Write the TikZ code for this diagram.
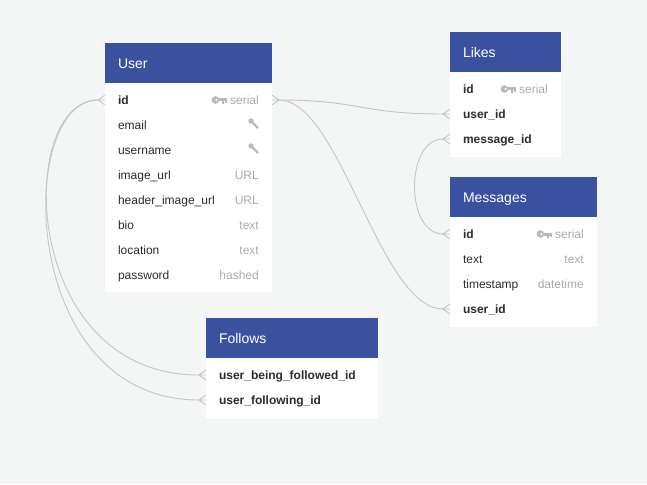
\documentclass[tikz,border=0pt]{standalone}
\usepackage{fontspec}
\setmainfont{Liberation Sans}
\usetikzlibrary{positioning}

\definecolor{canvas}{HTML}{F4F5F5}
\definecolor{headblue}{HTML}{3A51A0}
\definecolor{fieldtext}{HTML}{2C2C2C}
\definecolor{typetext}{HTML}{ABABAB}
\definecolor{keygrey}{HTML}{B9B9BE}
\definecolor{linkgrey}{HTML}{C6C6C6}

\tikzset{
  header/.style={fill=headblue, text=white, anchor=north west, align=left,
    minimum height=40pt, inner xsep=13pt, inner ysep=0pt, outer sep=0pt,
    font=\fontsize{14}{16}\selectfont, text height=11.5pt, text depth=0pt},
  tablebody/.style={fill=white, anchor=north west, inner sep=0pt, outer sep=0pt},
  field/.style={anchor=north west, align=left, minimum height=25pt,
    inner xsep=13pt, inner ysep=0pt, outer sep=0pt, text=fieldtext,
    font=\fontsize{12}{14}\selectfont, text height=10pt, text depth=1.5pt},
  reffield/.style={field, font=\fontsize{12}{14}\selectfont\bfseries},
  fieldtype/.style={anchor=east, inner sep=0pt, text=typetext,
    font=\fontsize{12}{14}\selectfont, text height=10pt, text depth=1.5pt},
  link/.style={draw=linkgrey, line width=0.9pt},
  pkey/.pic={
    \fill[keygrey, even odd rule] (-12,0) circle (3.8) (-11,0) circle (1.4);
    \fill[keygrey] (-8.5,-1.5) rectangle (0,1.5);
    \fill[keygrey] (-5,1.5) rectangle (-3.2,3.8);
    \fill[keygrey] (-2,1.5) rectangle (0,3.4);
  },
  ukey/.pic={
    \fill[keygrey] (-7,-4) circle (2.7);
    \draw[keygrey, line width=2.2pt] (-6,-3) -- (0,3);
  },
  crowin/.pic={\draw[link] (0,-5) -- (-7,0) -- (0,5) (-7,0) -- (0,0);},
  crowout/.pic={\draw[link] (0,-5) -- (7,0) -- (0,5) (7,0) -- (0,0);}
}

\begin{document}
\begin{tikzpicture}[x=1pt, y=-1pt]
\fill[canvas] (0,0) rectangle (647,484);
\useasboundingbox (0,0) rectangle (647,484);

% User
\node[header, text width=141pt] (user) at (105,43) {User};
\node[tablebody, minimum width=167pt, minimum height=209pt] (user-body) at (user.south west) {};
\node[reffield, text width=141pt] (user-id) at ([yshift=-4.5pt]user.south west) {id};
\node[field, text width=141pt, below=0pt of user-id] (user-email) {email};
\node[field, text width=141pt, below=0pt of user-email] (user-username) {username};
\node[field, text width=141pt, below=0pt of user-username] (user-image) {image\_url};
\node[field, text width=141pt, below=0pt of user-image] (user-header) {header\_image\_url};
\node[field, text width=141pt, below=0pt of user-header] (user-bio) {bio};
\node[field, text width=141pt, below=0pt of user-bio] (user-location) {location};
\node[field, text width=141pt, below=0pt of user-location] (user-password) {password};
\node[fieldtype] (user-id-type) at ([xshift=-13pt]user-id.east) {serial};
\node[fieldtype] (user-image-type) at ([xshift=-13pt]user-image.east) {URL};
\node[fieldtype] (user-header-type) at ([xshift=-13pt]user-header.east) {URL};
\node[fieldtype] (user-bio-type) at ([xshift=-13pt]user-bio.east) {text};
\node[fieldtype] (user-location-type) at ([xshift=-13pt]user-location.east) {text};
\node[fieldtype] (user-password-type) at ([xshift=-13pt]user-password.east) {hashed};
\pic at ([xshift=-2.5pt]user-id-type.west) {pkey};
\pic at ([xshift=-14pt]user-email.east) {ukey};
\pic at ([xshift=-14pt]user-username.east) {ukey};

% Likes
\node[header, text width=85pt] (likes) at (450,32) {Likes};
\node[tablebody, minimum width=111pt, minimum height=85pt] (likes-body) at (likes.south west) {};
\node[reffield, text width=85pt] (likes-id) at ([yshift=-4.5pt]likes.south west) {id};
\node[reffield, text width=85pt, below=0pt of likes-id] (likes-userid) {user\_id};
\node[reffield, text width=85pt, below=0pt of likes-userid] (likes-messageid) {message\_id};
\node[fieldtype] (likes-id-type) at ([xshift=-13pt]likes-id.east) {serial};
\pic at ([xshift=-2.5pt]likes-id-type.west) {pkey};

% Messages
\node[header, text width=121pt] (messages) at (450,177) {Messages};
\node[tablebody, minimum width=147pt, minimum height=110pt] (messages-body) at (messages.south west) {};
\node[reffield, text width=121pt] (messages-id) at ([yshift=-4.5pt]messages.south west) {id};
\node[field, text width=121pt, below=0pt of messages-id] (messages-text) {text};
\node[field, text width=121pt, below=0pt of messages-text] (messages-timestamp) {timestamp};
\node[reffield, text width=121pt, below=0pt of messages-timestamp] (messages-userid) {user\_id};
\node[fieldtype] (messages-id-type) at ([xshift=-13pt]messages-id.east) {serial};
\node[fieldtype] (messages-text-type) at ([xshift=-13pt]messages-text.east) {text};
\node[fieldtype] (messages-timestamp-type) at ([xshift=-13pt]messages-timestamp.east) {datetime};
\pic at ([xshift=-2.5pt]messages-id-type.west) {pkey};

% Follows
\node[header, text width=146pt] (follows) at (206,318) {Follows};
\node[tablebody, minimum width=172pt, minimum height=60pt] (follows-body) at (follows.south west) {};
\node[reffield, text width=146pt] (follows-followed) at ([yshift=-4.5pt]follows.south west) {user\_being\_followed\_id};
\node[reffield, text width=146pt, below=0pt of follows-followed] (follows-following) {user\_following\_id};

% relations
\pic at (user-id.east) {crowout};
\pic at (user-id.west) {crowin};
\pic at (likes-userid.west) {crowin};
\pic at (likes-messageid.west) {crowin};
\pic at (messages-id.west) {crowin};
\pic at (messages-userid.west) {crowin};
\pic at (follows-followed.west) {crowin};
\pic at (follows-following.west) {crowin};

\draw[link] ([xshift=7pt]user-id.east) .. controls +(81,0) and +(-83,0) .. ([xshift=-7pt]likes-userid.west);
\draw[link] ([xshift=7pt]user-id.east) .. controls +(61,0) and +(-63,0) .. ([xshift=-7pt]messages-userid.west);
\draw[link] ([xshift=-7pt]likes-messageid.west) .. controls +(-38,0) and +(-38,0) .. ([xshift=-7pt]messages-id.west);
\draw[link] ([xshift=-7pt]user-id.west) .. controls +(-82,0) and +(-180,0) .. ([xshift=-7pt]follows-followed.west);
\draw[link] ([xshift=-7pt]user-id.west) .. controls +(-82,0) and +(-182,0) .. ([xshift=-7pt]follows-following.west);
\end{tikzpicture}
\end{document}
